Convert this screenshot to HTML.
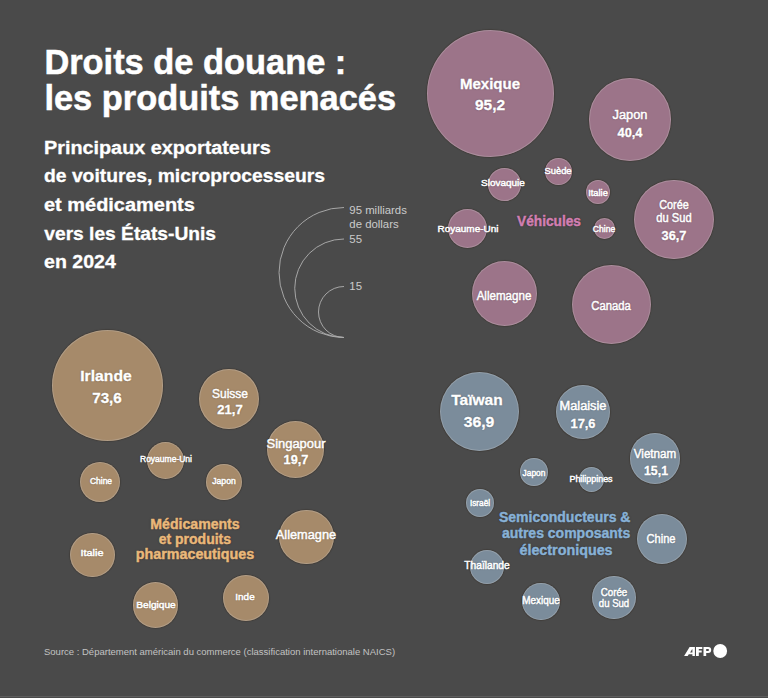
<!DOCTYPE html>
<html><head><meta charset="utf-8"><style>
html,body{margin:0;padding:0}
body{width:768px;height:698px;background:#4a4a4a;position:relative;overflow:hidden;font-family:"Liberation Sans",sans-serif;}
.c{position:absolute;border-radius:50%;box-sizing:border-box;box-shadow:0 0 0.8px 0.8px rgba(45,30,20,0.32), inset 0 0 0 1px rgba(210,210,210,0.27);}
.t{position:absolute;line-height:0;white-space:nowrap;transform:translateX(-50%);text-shadow:0 0 2px rgba(0,0,0,0.35);}
.tb{font-weight:bold;-webkit-text-stroke:0.3px currentColor}
.g{-webkit-text-stroke:0.45px currentColor;text-shadow:0 0 2px rgba(0,0,0,0.5)}
.ts{font-weight:normal;-webkit-text-stroke:0.45px currentColor;}
.tr{font-weight:normal;}
.tl,.sl{position:absolute;color:#fff;font-weight:bold;line-height:0;white-space:nowrap;transform-origin:0 0}
.tl{-webkit-text-stroke:0.5px #fff}
.sl{-webkit-text-stroke:0.3px #fff}
.lg{position:absolute;color:#cacaca;font-size:11.4px;line-height:13.45px;white-space:nowrap}
#src{position:absolute;left:44px;top:652px;line-height:0;color:#c2c2c2;font-size:9.6px;white-space:nowrap;transform-origin:0 0;transform:scaleX(0.99)}
#bl{position:absolute;left:0;top:695.5px;width:768px;height:1.5px;background:#5e5e5e}
</style></head><body>
<div class="tl" style="left:44.4px;top:62.08px;font-size:34.4px;transform:scaleX(1.0)">Droits de douane :</div><div class="tl" style="left:44.4px;top:98.38px;font-size:34.4px;transform:scaleX(1.0)">les produits menacés</div><div class="sl" style="left:44.3px;top:147.65px;font-size:19.2px;transform:scaleX(1.032)">Principaux exportateurs</div><div class="sl" style="left:44.3px;top:176.30px;font-size:19.2px;transform:scaleX(1.006)">de voitures, microprocesseurs</div><div class="sl" style="left:44.3px;top:204.95px;font-size:19.2px;transform:scaleX(1.04)">et médicaments</div><div class="sl" style="left:44.3px;top:233.60px;font-size:19.2px;transform:scaleX(1.0)">vers les États-Unis</div><div class="sl" style="left:44.3px;top:262.25px;font-size:19.2px;transform:scaleX(1.02)">en 2024</div>
<svg style="position:absolute;left:0;top:0" width="768" height="698">
<g fill="none" stroke="#ababab" stroke-width="0.95">
<path d="M344 207.5 A65 65 0 0 0 344 337.5"/>
<path d="M344 239 A49.25 49.25 0 0 0 344 337.5"/>
<path d="M344 286.5 A25.5 25.5 0 0 0 344 337.5"/>
</g></svg>
<div class="lg" style="left:349.3px;top:204.2px">95 milliards<br>de dollars</div>
<div class="lg" style="left:349.3px;top:232.5px">55</div>
<div class="lg" style="left:349.3px;top:280.2px">15</div>
<div class="c" style="left:426.6px;top:30.1px;width:127.4px;height:127.4px;background:#9c7489"></div><div class="c" style="left:588.6px;top:77.8px;width:82.8px;height:82.8px;background:#9c7489"></div><div class="c" style="left:545.2px;top:158.2px;width:26.6px;height:26.6px;background:#9c7489"></div><div class="c" style="left:488.1px;top:168.3px;width:32.8px;height:32.8px;background:#9c7489"></div><div class="c" style="left:585.7px;top:179.9px;width:24.6px;height:24.6px;background:#9c7489"></div><div class="c" style="left:634.3px;top:180.1px;width:79.4px;height:79.4px;background:#9c7489"></div><div class="c" style="left:448.0px;top:209.0px;width:39.0px;height:39.0px;background:#9c7489"></div><div class="c" style="left:593.5px;top:217.6px;width:21.8px;height:21.8px;background:#9c7489"></div><div class="c" style="left:471.5px;top:260.8px;width:65.6px;height:65.6px;background:#9c7489"></div><div class="c" style="left:572.2px;top:264.9px;width:79.0px;height:79.0px;background:#9c7489"></div><div class="c" style="left:51.8px;top:330.1px;width:111.0px;height:111.0px;background:#a68a6a"></div><div class="c" style="left:199.4px;top:369.0px;width:60.0px;height:60.0px;background:#a68a6a"></div><div class="c" style="left:267.2px;top:421.0px;width:57.2px;height:57.2px;background:#a68a6a"></div><div class="c" style="left:147.2px;top:441.7px;width:37.0px;height:37.0px;background:#a68a6a"></div><div class="c" style="left:80.3px;top:461.9px;width:40.2px;height:40.2px;background:#a68a6a"></div><div class="c" style="left:205.8px;top:463.6px;width:36.0px;height:36.0px;background:#a68a6a"></div><div class="c" style="left:279.3px;top:509.7px;width:54.6px;height:54.6px;background:#a68a6a"></div><div class="c" style="left:70.1px;top:532.7px;width:44.6px;height:44.6px;background:#a68a6a"></div><div class="c" style="left:132.9px;top:582.0px;width:45.6px;height:45.6px;background:#a68a6a"></div><div class="c" style="left:222.8px;top:575.4px;width:45.8px;height:45.8px;background:#a68a6a"></div><div class="c" style="left:440.0px;top:371.5px;width:79.0px;height:79.0px;background:#7b8c9b"></div><div class="c" style="left:555.6px;top:385.4px;width:54.0px;height:54.0px;background:#7b8c9b"></div><div class="c" style="left:629.7px;top:433.4px;width:50.6px;height:50.6px;background:#7b8c9b"></div><div class="c" style="left:520.0px;top:458.1px;width:27.5px;height:27.5px;background:#7b8c9b"></div><div class="c" style="left:578.5px;top:466.6px;width:25.6px;height:25.6px;background:#7b8c9b"></div><div class="c" style="left:466.3px;top:488.8px;width:28.0px;height:28.0px;background:#7b8c9b"></div><div class="c" style="left:636.6px;top:514.0px;width:50.0px;height:50.0px;background:#7b8c9b"></div><div class="c" style="left:470.3px;top:549.9px;width:34.0px;height:34.0px;background:#7b8c9b"></div><div class="c" style="left:522.4px;top:582.9px;width:37.2px;height:37.2px;background:#7b8c9b"></div><div class="c" style="left:592.2px;top:575.5px;width:43.4px;height:43.4px;background:#7b8c9b"></div>
<div class="t tb" style="left:490.0px;top:84.0px;font-size:15.5px;color:#ffffff;transform:translateX(-50%) scaleX(0.971)">Mexique</div><div class="t tb" style="left:490.0px;top:105.2px;font-size:15.5px;color:#ffffff;transform:translateX(-50%)">95,2</div><div class="t ts" style="left:630.0px;top:115.0px;font-size:12.5px;color:#ffffff;transform:translateX(-50%) scaleX(1.028)">Japon</div><div class="t tb" style="left:630.0px;top:133.0px;font-size:12.5px;color:#ffffff;transform:translateX(-50%) scaleX(1.027)">40,4</div><div class="t ts" style="left:558.4px;top:171.0px;font-size:9.5px;color:#ffffff;transform:translateX(-50%) scaleX(0.990)">Suède</div><div class="t ts" style="left:502.9px;top:182.8px;font-size:9.5px;color:#ffffff;transform:translateX(-50%) scaleX(1.049)">Slovaquie</div><div class="t ts" style="left:597.9px;top:192.7px;font-size:9px;color:#ffffff;transform:translateX(-50%) scaleX(1.036)">Italie</div><div class="t ts" style="left:674.0px;top:204.8px;font-size:12px;color:#ffffff;transform:translateX(-50%) scaleX(0.902)">Corée</div><div class="t ts" style="left:674.0px;top:218.4px;font-size:12px;color:#ffffff;transform:translateX(-50%) scaleX(0.930)">du Sud</div><div class="t tb" style="left:674.0px;top:235.7px;font-size:12.5px;color:#ffffff;transform:translateX(-50%) scaleX(1.023)">36,7</div><div class="t ts" style="left:467.5px;top:229.2px;font-size:9.5px;color:#ffffff;transform:translateX(-50%) scaleX(1.050)">Royaume-Uni</div><div class="t ts" style="left:603.5px;top:228.5px;font-size:9px;color:#ffffff;transform:translateX(-50%) scaleX(0.948)">Chine</div><div class="t ts" style="left:504.3px;top:295.6px;font-size:12px;color:#ffffff;transform:translateX(-50%) scaleX(0.965)">Allemagne</div><div class="t ts" style="left:611.3px;top:306.0px;font-size:12px;color:#ffffff;transform:translateX(-50%) scaleX(0.939)">Canada</div><div class="t tb g" style="left:549.0px;top:220.8px;font-size:14px;color:#d27fb2;transform:translateX(-50%) scaleX(0.979)">Véhicules</div><div class="t tb" style="left:106.4px;top:375.8px;font-size:15.5px;color:#ffffff;transform:translateX(-50%) scaleX(1.013)">Irlande</div><div class="t tb" style="left:106.5px;top:398.0px;font-size:15.5px;color:#ffffff;transform:translateX(-50%) scaleX(0.981)">73,6</div><div class="t ts" style="left:229.5px;top:394.2px;font-size:12.5px;color:#ffffff;transform:translateX(-50%) scaleX(0.962)">Suisse</div><div class="t tb" style="left:230.0px;top:410.4px;font-size:12.5px;color:#ffffff;transform:translateX(-50%) scaleX(1.043)">21,7</div><div class="t ts" style="left:295.7px;top:444.0px;font-size:12.5px;color:#ffffff;transform:translateX(-50%) scaleX(1.035)">Singapour</div><div class="t tb" style="left:295.8px;top:460.0px;font-size:12.5px;color:#ffffff;transform:translateX(-50%) scaleX(1.019)">19,7</div><div class="t ts" style="left:166.2px;top:459.2px;font-size:9px;color:#ffffff;transform:translateX(-50%) scaleX(0.945)">Royaume-Uni</div><div class="t ts" style="left:100.5px;top:480.8px;font-size:9px;color:#ffffff;transform:translateX(-50%) scaleX(0.944)">Chine</div><div class="t ts" style="left:224.0px;top:480.8px;font-size:9px;color:#ffffff;transform:translateX(-50%) scaleX(0.958)">Japon</div><div class="t ts" style="left:305.6px;top:534.6px;font-size:12.5px;color:#ffffff;transform:translateX(-50%) scaleX(1.022)">Allemagne</div><div class="t ts" style="left:92.2px;top:552.9px;font-size:9.5px;color:#ffffff;transform:translateX(-50%) scaleX(1.146)">Italie</div><div class="t ts" style="left:156.2px;top:604.6px;font-size:9.5px;color:#ffffff;transform:translateX(-50%) scaleX(1.065)">Belgique</div><div class="t ts" style="left:245.3px;top:596.6px;font-size:9.5px;color:#ffffff;transform:translateX(-50%) scaleX(1.043)">Inde</div><div class="t tb g" style="left:194.9px;top:523.5px;font-size:14px;color:#eab87a;transform:translateX(-50%) scaleX(1.007)">Médicaments</div><div class="t tb g" style="left:194.9px;top:538.5px;font-size:14px;color:#eab87a;transform:translateX(-50%)">et produits</div><div class="t tb g" style="left:194.9px;top:553.5px;font-size:14px;color:#eab87a;transform:translateX(-50%) scaleX(1.022)">pharmaceutiques</div><div class="t tb" style="left:477.0px;top:400.4px;font-size:15.5px;color:#ffffff;transform:translateX(-50%)">Taïwan</div><div class="t tb" style="left:479.2px;top:422.0px;font-size:15.5px;color:#ffffff;transform:translateX(-50%) scaleX(1.018)">36,9</div><div class="t ts" style="left:583.1px;top:405.6px;font-size:12px;color:#ffffff;transform:translateX(-50%) scaleX(1.066)">Malaisie</div><div class="t tb" style="left:583.1px;top:424.0px;font-size:12.5px;color:#ffffff;transform:translateX(-50%) scaleX(1.027)">17,6</div><div class="t ts" style="left:655.3px;top:453.8px;font-size:12px;color:#ffffff;transform:translateX(-50%) scaleX(0.970)">Vietnam</div><div class="t tb" style="left:655.8px;top:471.0px;font-size:12.5px;color:#ffffff;transform:translateX(-50%) scaleX(0.986)">15,1</div><div class="t ts" style="left:533.9px;top:473.0px;font-size:9px;color:#ffffff;transform:translateX(-50%) scaleX(0.929)">Japon</div><div class="t ts" style="left:591.0px;top:478.8px;font-size:9px;color:#ffffff;transform:translateX(-50%) scaleX(0.990)">Philippines</div><div class="t ts" style="left:480.3px;top:502.8px;font-size:8.5px;color:#ffffff;transform:translateX(-50%) scaleX(0.962)">Israël</div><div class="t ts" style="left:661.1px;top:539.0px;font-size:12px;color:#ffffff;transform:translateX(-50%) scaleX(0.925)">Chine</div><div class="t ts" style="left:487.3px;top:566.1px;font-size:10px;color:#ffffff;transform:translateX(-50%) scaleX(1.018)">Thaïlande</div><div class="t ts" style="left:541.2px;top:600.6px;font-size:10px;color:#ffffff;transform:translateX(-50%) scaleX(0.992)">Mexique</div><div class="t ts" style="left:613.9px;top:592.2px;font-size:10.5px;color:#ffffff;transform:translateX(-50%) scaleX(0.930)">Corée</div><div class="t ts" style="left:614.2px;top:602.5px;font-size:10.5px;color:#ffffff;transform:translateX(-50%) scaleX(0.913)">du Sud</div><div class="t tb g" style="left:564.7px;top:516.9px;font-size:14px;color:#88b1d6;transform:translateX(-50%)">Semiconducteurs &amp;</div><div class="t tb g" style="left:566.1px;top:532.8px;font-size:14px;color:#88b1d6;transform:translateX(-50%)">autres composants</div><div class="t tb g" style="left:566.2px;top:549.8px;font-size:14px;color:#88b1d6;transform:translateX(-50%) scaleX(1.023)">électroniques</div>
<div id="src">Source : Département américain du commerce (classification internationale NAICS)</div>
<svg style="position:absolute;left:0;top:0" width="768" height="698"><g fill="#fff" fill-rule="evenodd">
<path d="M684.1 655.9 L689.6 646.9 H694.9 V655.9 H692.4 V654.3 H688.8 L687.7 655.9 Z M690.1 652.5 H692.4 V649.3 H692.1 Z"/>
<path d="M696 646.9 H702.3 V649.1 H698.8 V650.6 H701.7 V652.6 H698.8 V655.9 H696 Z"/>
<path d="M703.5 646.9 H708.2 A3 3 0 0 1 708.2 652.9 H706.2 V655.9 H703.5 Z M706.2 648.9 H708 A1 1 0 0 1 708 650.9 H706.2 Z"/>
<circle cx="720.2" cy="651" r="6.9"/></g></svg>
<div id="bl"></div>
</body></html>
